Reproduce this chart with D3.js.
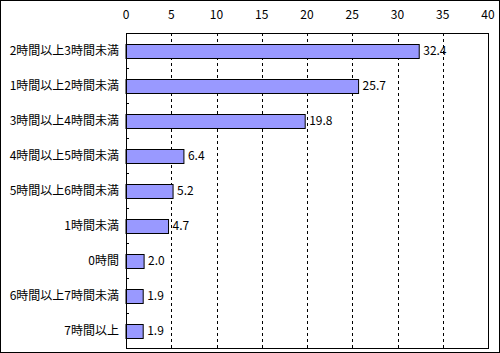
<!DOCTYPE html>
<html>
<head>
<meta charset="utf-8">
<script src="https://cdn.jsdelivr.net/npm/d3@7"></script>
<style>
  body { margin: 0; background: #fff; }
  svg text { font-family: "Noto Sans CJK JP", "DejaVu Sans", sans-serif; font-size: 12px; fill: #000; }
</style>
</head>
<body>
<svg id="chart" width="500" height="353"></svg>
<script>
// data
var categories = ['2時間以上3時間未満', '1時間以上2時間未満', '3時間以上4時間未満', '4時間以上5時間未満',
                  '5時間以上6時間未満', '1時間未満', '0時間', '6時間以上7時間未満', '7時間以上'];
var values = [32.4, 25.7, 19.8, 6.4, 5.2, 4.7, 2.0, 1.9, 1.9];
var xTicks = [0, 5, 10, 15, 20, 25, 30, 35, 40];

var svg = d3.select('#chart');
var plot = { left: 126, right: 488, top: 33, bottom: 348 };

var xScale = d3.scaleLinear().domain([0, 40]).range([plot.left, plot.right]);
var yScale = d3.scaleBand().domain(categories).range([plot.top, plot.bottom]).paddingInner(0.6).paddingOuter(0.3);

// outer frame
svg.append('rect').attr('x', 0.5).attr('y', 0.5).attr('width', 499).attr('height', 352)
   .style('fill', 'none').style('stroke', '#000').style('stroke-width', 1);

// gridlines
svg.append('g').selectAll('line').data(xTicks.filter(d => d > 0 && d < 40)).join('line')
   .attr('x1', d => Math.round(xScale(d)) + 0.5).attr('x2', d => Math.round(xScale(d)) + 0.5)
   .attr('y1', plot.top).attr('y2', plot.bottom)
   .style('stroke', '#000').style('stroke-dasharray', '3,3');

// top tick labels
svg.append('g').selectAll('text').data(xTicks).join('text')
   .attr('x', d => xScale(d)).attr('y', 16)
   .style('text-anchor', 'middle').style('dominant-baseline', 'middle')
   .text(d => d);

// bars
svg.append('g').selectAll('rect').data(values).join('rect')
   .attr('x', xScale(0)).attr('y', (d, i) => Math.round(yScale(categories[i])) + 0.5)
   .attr('width', d => xScale(d) - xScale(0)).attr('height', Math.round(yScale.bandwidth()))
   .style('fill', '#9999ff').style('stroke', '#000').style('stroke-width', 1);

// value labels
svg.append('g').selectAll('text').data(values).join('text')
   .attr('x', d => xScale(d) + 4).attr('y', (d, i) => yScale(categories[i]) + yScale.bandwidth() / 2 + 1)
   .style('dominant-baseline', 'middle')
   .text(d => d.toFixed(1));

// category labels
svg.append('g').selectAll('text').data(categories).join('text')
   .attr('x', 119).attr('y', d => yScale(d) + yScale.bandwidth() / 2 + 1)
   .style('text-anchor', 'end').style('dominant-baseline', 'middle')
   .text(d => d);

// category boundary ticks
var step = (plot.bottom - plot.top) / categories.length;
svg.append('g').selectAll('line').data(d3.range(1, categories.length)).join('line')
   .attr('x1', plot.left).attr('x2', plot.left + 3)
   .attr('y1', d => Math.round(plot.top + d * step) + 0.5).attr('y2', d => Math.round(plot.top + d * step) + 0.5)
   .style('stroke', '#000');

// plot frame
svg.append('rect').attr('x', plot.left + 0.5).attr('y', plot.top + 0.5)
   .attr('width', plot.right - plot.left).attr('height', plot.bottom - plot.top)
   .style('fill', 'none').style('stroke', '#000').style('stroke-width', 1);
</script>
</body>
</html>
